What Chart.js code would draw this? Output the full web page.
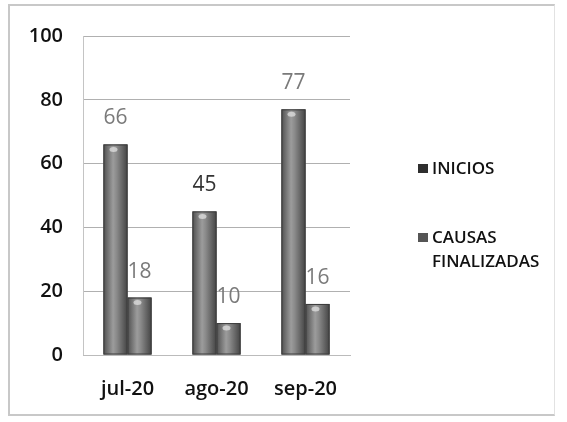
<!DOCTYPE html>
<html>
<head>
<meta charset="utf-8">
<script src="https://cdn.jsdelivr.net/npm/chart.js@4"></script>
<style>
  html, body { margin: 0; padding: 0; background: #fff; }
  #wrap { position: relative; width: 567px; height: 422px; }
  #frame { position: absolute; left: 8px; top: 4px; width: 547px; height: 412px; border: 2px solid #c8c8c8; border-right: 1px solid #e2e2e2; box-sizing: border-box; }
  #legend { position: absolute; left: 418px; top: 156px; font-family: "Open Sans", sans-serif; font-size: 17px; font-weight: 600; color: #111; }
  .item { position: relative; padding-left: 14px; line-height: 24px; }
  .item .box { position: absolute; left: 0; top: 8px; width: 10px; height: 9px; background: #333; }
  .item + .item { margin-top: 45px; }
</style>
</head>
<body>
<div id="wrap">
  <div id="frame"></div>
  <canvas id="c" width="567" height="422"></canvas>
  <div id="legend"></div>
</div>
<script>
const categories = ['jul-20', 'ago-20', 'sep-20'];
const seriesNames = ['INICIOS', ['CAUSAS', 'FINALIZADAS']];
const inicios = [66, 45, 77];
const causasFinalizadas = [18, 10, 16];
const yTicks = [0, 20, 40, 60, 80, 100];

const labelColors = [['#7a7a7a', '#333333', '#7a7a7a'], ['#7a7a7a', '#7a7a7a', '#7a7a7a']];

// legend on the right, built from the series names
const legend = document.getElementById('legend');
seriesNames.forEach((name, i) => {
  const div = document.createElement('div');
  div.className = 'item';
  div.innerHTML = '<span class="box" style="background:' + (i === 0 ? '#2e2e2e' : '#555') + '"></span>' +
    (Array.isArray(name) ? name.join('<br>') : name);
  legend.appendChild(div);
});

// cylinder-like shading over the bars, then value labels above them
const barLook = {
  id: 'barLook',
  afterDatasetsDraw(chart) {
    const ctx = chart.ctx;
    ctx.save();
    chart.data.datasets.forEach((ds, di) => {
      chart.getDatasetMeta(di).data.forEach(bar => {
        const p = bar.getProps(['x', 'y', 'base', 'width'], true);
        const l = p.x - p.width / 2;
        const g = ctx.createLinearGradient(l, 0, l + p.width, 0);
        g.addColorStop(0, '#505050');
        g.addColorStop(0.4, '#9c9c9c');
        g.addColorStop(0.55, '#8a8a8a');
        g.addColorStop(1, '#444444');
        ctx.fillStyle = g;
        ctx.fillRect(l, p.y, p.width, p.base - p.y);
        ctx.strokeStyle = '#3c3c3c';
        ctx.lineWidth = 1;
        ctx.strokeRect(l + 0.5, p.y + 0.5, p.width - 1, p.base - p.y - 1);
        // small highlight on the top
        ctx.fillStyle = 'rgba(230,230,230,0.7)';
        ctx.beginPath();
        ctx.ellipse(p.x - 2, p.y + 5, 4, 2.5, 0, 0, Math.PI * 2);
        ctx.fill();
      });
    });
    ctx.font = '21px "Open Sans", sans-serif';
    ctx.textAlign = 'center';
    ctx.textBaseline = 'middle';
    chart.data.datasets.forEach((ds, di) => {
      chart.getDatasetMeta(di).data.forEach((bar, i) => {
        ctx.fillStyle = labelColors[di][i];
        ctx.fillText(String(ds.data[i]), bar.x, bar.y - 26);
      });
    });
    ctx.restore();
  }
};

new Chart(document.getElementById('c'), {
  type: 'bar',
  data: {
    labels: categories,
    datasets: [
      { label: 'INICIOS', data: inicios, backgroundColor: '#6e6e6e' },
      { label: 'CAUSAS FINALIZADAS', data: causasFinalizadas, backgroundColor: '#6e6e6e' }
    ]
  },
  options: {
    responsive: false,
    animation: false,
    layout: { padding: { top: 36, left: 10, right: 217, bottom: 17 } },
    datasets: { bar: { barPercentage: 1, categoryPercentage: 0.54 } },
    plugins: { legend: { display: false }, tooltip: { enabled: false } },
    scales: {
      y: {
        min: 0, max: 100,
        afterBuildTicks(axis) { axis.ticks = yTicks.map(v => ({ value: v })); },
        afterFit(axis) { axis.width = 73; },
        ticks: { color: '#111', padding: 20, font: { family: '"Open Sans", sans-serif', size: 20, weight: '600' } },
        grid: { color: '#b0b0b0', drawTicks: false },
        border: { color: '#c4c4c4' }
      },
      x: {
        afterFit(axis) { axis.height = 50; },
        ticks: { color: '#111', padding: 14, font: { family: '"Open Sans", sans-serif', size: 20, weight: '600' } },
        grid: { display: false },
        border: { color: '#bbb' }
      }
    }
  },
  plugins: [barLook]
});
</script>
</body>
</html>
